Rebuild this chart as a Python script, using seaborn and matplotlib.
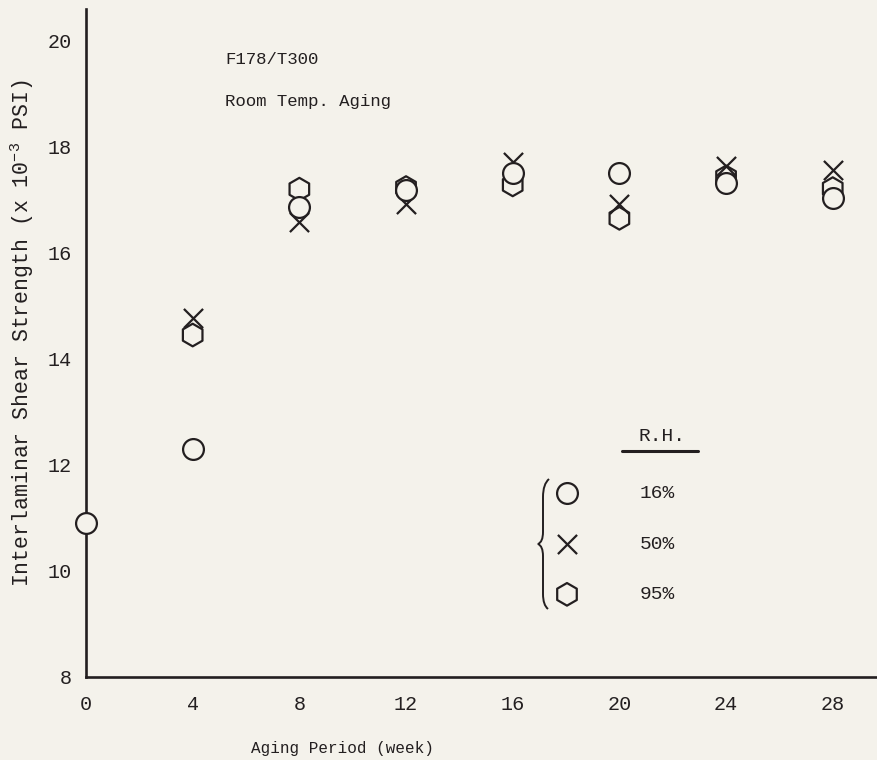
import numpy as np
import pandas as pd
import seaborn as sns
import matplotlib.pyplot as plt
from matplotlib.path import Path
from matplotlib.patches import PathPatch
from matplotlib.lines import Line2D

# values (x 10^-3 psi)
weeks = [0, 4, 8, 12, 16, 20, 24, 28]
rh16 = [10.90, 12.29, 16.86, 17.17, 17.49, 17.49, 17.30, 17.02]
rh50 = [np.nan, 14.76, 16.58, 16.91, 17.71, 16.91, 17.62, 17.55]
rh95 = [np.nan, 14.44, 17.19, 17.22, 17.27, 16.64, 17.42, 17.20]
rh_labels = ['16%', '50%', '95%']
xticks = [0, 4, 8, 12, 16, 20, 24, 28]
yticks = [8, 10, 12, 14, 16, 18, 20]

bg = '#f4f2eb'
ink = '#231f20'

sns.set_style('white')
plt.rcParams['font.family'] = ['Liberation Mono', 'DejaVu Sans Mono']
plt.rcParams['mathtext.default'] = 'regular'

W, H = 877, 760
fig = plt.figure(figsize=(W / 100, H / 100), dpi=100, facecolor=bg)
ax = fig.add_axes([86 / W, (H - 676.7) / H, (W - 86) / W, 667.4 / H])
ax.set_facecolor(bg)

df = pd.DataFrame({'week': weeks, 'rh16': rh16, 'rh50': rh50, 'rh95': rh95})

# hexagons (95%) underneath, then crosses, circles on top
sns.scatterplot(data=df, x='week', y='rh95', marker='h', s=265, facecolor='none',
                edgecolor=ink, linewidth=1.6, zorder=3, clip_on=False,
                label=rh_labels[2], legend=False, ax=ax)
sns.scatterplot(data=df, x='week', y='rh50', marker='x', s=190, color=ink,
                linewidth=1.6, zorder=4, clip_on=False,
                label=rh_labels[1], legend=False, ax=ax)
sns.scatterplot(data=df, x='week', y='rh16', marker='o', s=225, facecolor=bg,
                edgecolor=ink, linewidth=1.6, zorder=5, clip_on=False,
                label=rh_labels[0], legend=False, ax=ax)

ax.set_xlim(0, 29.66)
ax.set_ylim(8, 20.58)
ax.set_xticks(xticks)
ax.set_yticks(yticks)
ax.tick_params(axis='both', direction='in', colors=ink, width=1.6, labelsize=14.5)
ax.tick_params(axis='y', length=12, pad=10)
ax.tick_params(axis='x', length=11, pad=13)

for side in ['top', 'right']:
    ax.spines[side].set_visible(False)
for side in ['left', 'bottom']:
    ax.spines[side].set_color(ink)
    ax.spines[side].set_linewidth(1.9)

ax.set_xlabel('Aging Period (week)', fontsize=11.5, color=ink)
ax.xaxis.set_label_coords(0.324, -0.097)
ax.set_ylabel('Interlaminar Shear Strength (x 10$^{-3}$ PSI)', fontsize=15.5, color=ink)
ax.yaxis.set_label_coords(-0.063, 0.514)

ax.text(0.176, 0.925, 'F178/T300', transform=ax.transAxes, fontsize=12.5,
        color=ink, va='center', ha='left')
ax.text(0.176, 0.862, 'Room Temp. Aging', transform=ax.transAxes, fontsize=12.5,
        color=ink, va='center', ha='left')

# legend: R.H. heading, brace and markers
h, l = ax.get_legend_handles_labels()
order = [l.index(s) for s in rh_labels]
ax.legend([h[i] for i in order], [l[i] for i in order], loc='upper left',
          bbox_to_anchor=(552.4 / W, 1 - 484.5 / H), bbox_transform=fig.transFigure,
          frameon=False, fontsize=14, borderpad=0, borderaxespad=0,
          handlelength=1.5, handletextpad=3.0, labelspacing=1.7,
          labelcolor=ink)


def px(x, y):
    return (x / W, 1 - y / H)


fig.text(*px(662, 437), 'R.H.', fontsize=14, color=ink, ha='center', va='center')
fig.add_artist(Line2D([622 / W, 698 / W], [1 - 451 / H, 1 - 451 / H],
                      transform=fig.transFigure, color=ink, lw=2.2))

verts = [px(549, 479), px(543, 484), px(543, 497), px(543, 532),
         px(543, 542), px(538, 544), px(543, 546), px(543, 556),
         px(543, 594), px(543, 605), px(548, 609)]
codes = [Path.MOVETO, Path.CURVE3, Path.CURVE3, Path.LINETO,
         Path.CURVE3, Path.CURVE3, Path.CURVE3, Path.CURVE3,
         Path.LINETO, Path.CURVE3, Path.CURVE3]
fig.add_artist(PathPatch(Path(verts, codes), transform=fig.transFigure,
                         facecolor='none', edgecolor=ink, lw=1.4))

fig.savefig('out.png', dpi=100, facecolor=bg)
